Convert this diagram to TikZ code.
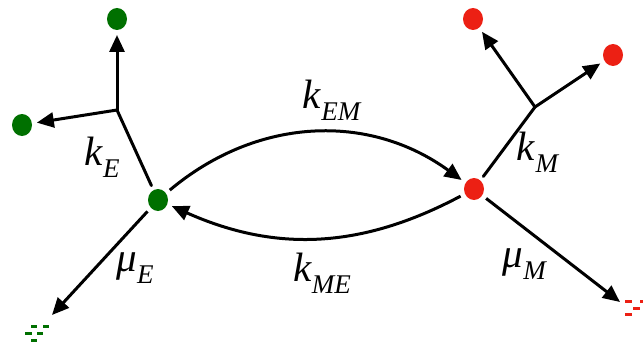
\documentclass[tikz,border=0pt]{standalone}
\usepackage{fontspec}
\setmainfont{Liberation Serif}
\usetikzlibrary{arrows.meta,shapes.geometric}
\definecolor{dgreen}{RGB}{0,112,0}
\definecolor{dred}{RGB}{236,32,20}
\newcommand\klab[2]{\textit{#1}\raisebox{-0.3em}{\fontsize{27}{27}\selectfont\textit{#2}}}
\begin{document}
\begin{tikzpicture}[x=1pt,y=-1pt,
  dot/.style={ellipse, minimum width=20pt, minimum height=22pt, inner sep=0pt, outer sep=5pt},
  gdot/.style={dot, fill=dgreen},
  rdot/.style={dot, fill=dred},
  ln/.style={line width=3pt, line cap=round},
  arr/.style={line width=3pt, -{Triangle[length=17pt,width=15pt]}},
  lbl/.style={font=\fontsize{41}{44}\selectfont, inner sep=0pt},
  gdash/.style={fill=dgreen},
  rdash/.style={fill=dred}]
\useasboundingbox (0,0) rectangle (643,345);
% green side
\node[gdot] (gc) at (158,200) {};
\node[gdot] (gt) at (117,19) {};
\node[gdot] (gl) at (22,125) {};
\coordinate (gj) at (117,110);
\draw[ln] (gc) -- (gj);
\draw[arr] (gj) -- (gt);
\draw[arr] (gj) -- (gl);
% red side
\node[rdot] (rc) at (474,189) {};
\node[rdot] (rt) at (473,19) {};
\node[rdot] (rr) at (613,55) {};
\coordinate (rj) at (535,107);
\draw[ln] (rc) -- (rj);
\draw[arr] (rj) -- (rt);
\draw[arr] (rj) -- (rr);
% decay
\coordinate (gd) at (52,315);
\draw[arr] (gc) -- (gd);
\coordinate (rd) at (620,302);
\draw[arr] (rc) -- (rd);
\fill[gdash] (31,324.5) rectangle (37,327.5);
\fill[gdash] (43,324.5) rectangle (49,327.5);
\fill[gdash] (25,331.5) rectangle (32,334.5);
\fill[gdash] (37,331.5) rectangle (43,334.5);
\fill[gdash] (31,338.5) rectangle (37,341.5);
\fill[rdash] (625,299.5) rectangle (632,302.5);
\fill[rdash] (640,299.5) rectangle (647,302.5);
\fill[rdash] (633,306.5) rectangle (640,309.5);
\fill[rdash] (625,312.5) rectangle (632,315.5);
% arcs
\draw[arr] (gc) to[bend left=38] (rc);
\draw[arr] (rc) to[bend left=26] (gc);
% labels
\node[lbl] (kem) at (332,100) {\klab{k}{EM}};
\node[lbl] (kme) at (322,273) {\klab{k}{ME}};
\node[lbl] (ke) at (102,157) {\klab{k}{E}};
\node[lbl] (km) at (538,152) {\klab{k}{M}};
\node[lbl] (mue) at (135,268) {\klab{μ}{E}};
\node[lbl] (mum) at (525,264) {\klab{μ}{M}};
\end{tikzpicture}
\end{document}
